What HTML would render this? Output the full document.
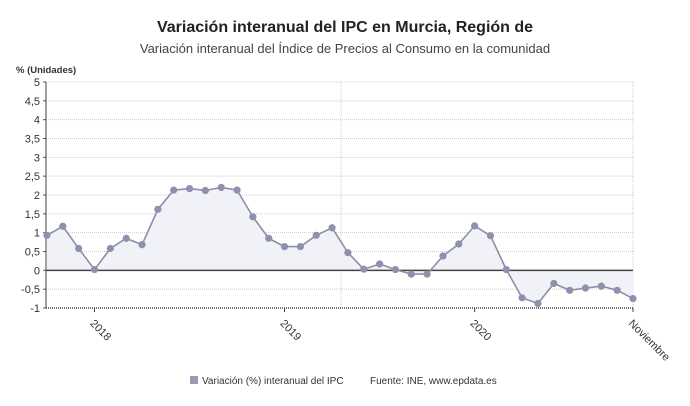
<!DOCTYPE html>
<html><head><meta charset="utf-8"><style>
body{margin:0;background:#fff;font-family:"Liberation Sans","DejaVu Sans",sans-serif;}
svg{display:block}
</style></head><body>
<svg id="c" width="690" height="406" xmlns="http://www.w3.org/2000/svg">
<text x="345" y="32" text-anchor="middle" font-size="16" font-weight="bold" fill="#222">Variación interanual del IPC en Murcia, Región de</text>
<text x="345" y="53" text-anchor="middle" font-size="13" fill="#444">Variación interanual del Índice de Precios al Consumo en la comunidad</text>
<text x="16" y="73" font-size="9.5" font-weight="bold" fill="#333">% (Unidades)</text>
<g id="grid"></g><g id="area"></g><g id="axes"></g><g id="series"></g>
<rect x="190" y="376" width="8" height="8" fill="#9a9ab4"/>
<text x="202" y="384" font-size="10" fill="#333">Variación (%) interanual del IPC</text>
<text x="370" y="384" font-size="10" fill="#333">Fuente: INE, www.epdata.es</text>
</svg>
<script>
const months = ["2017-10","2017-11","2017-12","2018-01","2018-02","2018-03","2018-04","2018-05","2018-06","2018-07","2018-08","2018-09","2018-10","2018-11","2018-12","2019-01","2019-02","2019-03","2019-04","2019-05","2019-06","2019-07","2019-08","2019-09","2019-10","2019-11","2019-12","2020-01","2020-02","2020-03","2020-04","2020-05","2020-06","2020-07","2020-08","2020-09","2020-10","2020-11"];
const values = [0.93,1.17,0.58,0.02,0.58,0.85,0.68,1.62,2.13,2.17,2.12,2.2,2.13,1.42,0.85,0.63,0.63,0.93,1.13,0.47,0.03,0.17,0.02,-0.1,-0.1,0.38,0.7,1.18,0.92,0.02,-0.73,-0.88,-0.35,-0.53,-0.47,-0.42,-0.53,-0.75];
const yTicks = [5,4.5,4,3.5,3,2.5,2,1.5,1,0.5,0,-0.5,-1];
const xTickLabels = [{i:3,t:"2018"},{i:15,t:"2019"},{i:27,t:"2020"},{i:37,t:"Noviembre"}];
const NS="http://www.w3.org/2000/svg";
const L=46,R=633,T=82,B=308,yMin=-1,yMax=5;
const x=i=>L+1+(R-L-1)*i/(months.length-1);
const y=v=>B-(v-yMin)/(yMax-yMin)*(B-T);
function mk(p,tag,a){const e=document.createElementNS(NS,tag);for(const k in a)e.setAttribute(k,a[k]);document.getElementById(p).appendChild(e);return e;}
yTicks.forEach(v=>{
  if(v!==0&&v!==-1){const g=mk('grid','line',{x1:L,x2:R,y1:y(v),y2:y(v),stroke:'#ccc','stroke-dasharray':'1,1'});
  
  }
  const t=mk('axes','text',{x:40,y:y(v)+4,'text-anchor':'end','font-size':11,fill:'#333'});t.textContent=String(v).replace('.',',');
  
  
  mk('axes','line',{x1:L-3,x2:L,y1:y(v),y2:y(v),stroke:'#555'});
});
const vl=mk('grid','line',{x1:341,x2:341,y1:T,y2:B,stroke:'#ccc','stroke-dasharray':'1,1'});


mk('grid','line',{x1:R,x2:R,y1:T,y2:B,stroke:'#ccc','stroke-dasharray':'1,1'});
let d='M'+x(0)+','+y(0);values.forEach((v,i)=>d+=' L'+x(i)+','+y(v));d+=' L'+x(values.length-1)+','+y(0)+'Z';
const ar=mk('area','path',{d:d,fill:'#f1f2f7'});


mk('axes','line',{x1:L,x2:L,y1:T,y2:B,stroke:'#444'});
mk('axes','line',{x1:L,x2:R,y1:B,y2:B,stroke:'#444','stroke-dasharray':'1,1','stroke-width':1.5});
const z=mk('axes','line',{x1:L,x2:R,y1:y(0),y2:y(0),stroke:'#444','stroke-width':1.5});


xTickLabels.forEach(o=>{
  const xx=x(o.i);mk('axes','line',{x1:xx,x2:xx,y1:B,y2:B+4,stroke:'#444'});
  const t=mk('axes','text',{x:xx-5,y:B+16,'font-size':11,fill:'#333',transform:`rotate(45 ${xx-5} ${B+16})`});t.textContent=o.t;
  
  
});
const ln=mk('series','polyline',{points:values.map((v,i)=>x(i)+','+y(v)).join(' '),fill:'none',stroke:'#8d8da8','stroke-width':1.6});


values.forEach((v,i)=>{
  const c=mk('series','circle',{cx:x(i),cy:y(v),r:3.6,fill:'#8f90ad'});
  
  
});
</script>
</body></html>
